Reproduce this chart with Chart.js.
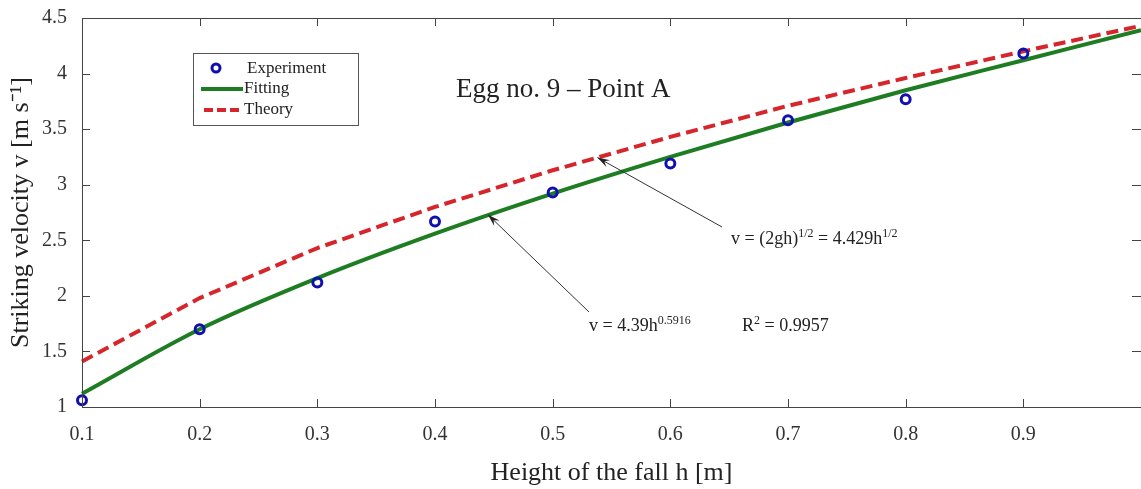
<!DOCTYPE html>
<html>
<head>
<meta charset="utf-8">
<script src="https://cdn.jsdelivr.net/npm/chart.js@4.4.1/dist/chart.umd.min.js"></script>
<style>
  html, body { margin: 0; padding: 0; background: #fff; overflow: hidden; }
  #wrap { width: 1141px; height: 489px; position: relative; }
  canvas { display: block; }
</style>
</head>
<body>
<div id="wrap"><canvas id="egg"></canvas></div>
<script>
// heights of the fall [m]
const heights = [0.1, 0.2, 0.3, 0.4, 0.5, 0.6, 0.7, 0.8, 0.9];
const experiment = [1.06, 1.70, 2.12, 2.67, 2.93, 3.19, 3.58, 3.77, 4.18];

// curves
const curveHeights = [0.1, 0.2, 0.3, 0.4, 0.5, 0.6, 0.7, 0.8, 0.9, 1.0];
const fitting = [1.12, 1.70, 2.16, 2.56, 2.92, 3.25, 3.56, 3.85, 4.12, 4.39];
const theory = [1.41, 1.98, 2.43, 2.80, 3.13, 3.43, 3.71, 3.96, 4.20, 4.43];

const xTickLabels = ['0.1', '0.2', '0.3', '0.4', '0.5', '0.6', '0.7', '0.8', '0.9'];
const yTickLabels = ['1', '1.5', '2', '2.5', '3', '3.5', '4', '4.5'];

const serif = '"Liberation Serif", "Times New Roman", serif';
const blue = '#1010b0';
const green = '#1e7d22';
const red = '#d6262b';

function toPoints(xs, ys) {
    return xs.map((x, i) => ({ x: x, y: ys[i] }));
}

// draw text with superscripts, parts = [[text, isSup], ...]
function drawRich(ctx, x, y, parts, size) {
    ctx.textAlign = 'left';
    ctx.textBaseline = 'alphabetic';
    parts.forEach(p => {
        const sup = p[1];
        ctx.font = (sup ? Math.round(size * 0.68) : size) + 'px ' + serif;
        ctx.fillText(p[0], x, sup ? y - size * 0.4 : y);
        x += ctx.measureText(p[0]).width;
    });
}

function arrow(ctx, x1, y1, x2, y2) {
    ctx.strokeStyle = '#333';
    ctx.fillStyle = '#222';
    ctx.lineWidth = 1;
    ctx.beginPath();
    ctx.moveTo(x1, y1);
    ctx.lineTo(x2, y2);
    ctx.stroke();
    const a = Math.atan2(y2 - y1, x2 - x1);
    const len = 13, w = 0.3;
    ctx.beginPath();
    ctx.moveTo(x2, y2);
    ctx.lineTo(x2 - len * Math.cos(a - w), y2 - len * Math.sin(a - w));
    ctx.lineTo(x2 - len * 0.6 * Math.cos(a), y2 - len * 0.6 * Math.sin(a));
    ctx.lineTo(x2 - len * Math.cos(a + w), y2 - len * Math.sin(a + w));
    ctx.closePath();
    ctx.fill();
}

const framePlugin = {
    id: 'frame',
    afterDraw(chart) {
        const ctx = chart.ctx;
        const a = chart.chartArea;
        const xs = chart.scales.x, ys = chart.scales.y;
        ctx.save();
        // frame
        ctx.strokeStyle = '#444';
        ctx.lineWidth = 1;
        ctx.strokeRect(a.left + 0.5, a.top + 0.5, a.right - a.left, a.bottom - a.top);
        // inward ticks on all sides
        ctx.beginPath();
        xs.ticks.forEach(t => {
            const px = Math.round(xs.getPixelForValue(t.value)) + 0.5;
            ctx.moveTo(px, a.bottom); ctx.lineTo(px, a.bottom - 8);
            ctx.moveTo(px, a.top); ctx.lineTo(px, a.top + 8);
        });
        ys.ticks.forEach(t => {
            const py = Math.round(ys.getPixelForValue(t.value)) + 0.5;
            ctx.moveTo(a.left, py); ctx.lineTo(a.left + 8, py);
            ctx.moveTo(a.right, py); ctx.lineTo(a.right - 9, py);
        });
        ctx.stroke();

        // title inside plot
        ctx.fillStyle = '#222';
        ctx.font = '27px ' + serif;
        ctx.textAlign = 'left';
        ctx.textBaseline = 'alphabetic';
        ctx.fillText('Egg no. 9 \u2013 Point A', 456, 97);

        // legend box
        ctx.strokeStyle = '#555';
        ctx.strokeRect(193.5, 53.5, 165, 72);
        ctx.font = '17px ' + serif;
        ctx.textBaseline = 'middle';
        ctx.fillText('Experiment', 247, 69);
        ctx.fillText('Fitting', 244, 89);
        ctx.fillText('Theory', 244, 110);
        ctx.strokeStyle = blue;
        ctx.lineWidth = 3;
        ctx.beginPath();
        ctx.arc(216, 68, 4, 0, Math.PI * 2);
        ctx.stroke();
        ctx.strokeStyle = green;
        ctx.lineWidth = 4;
        ctx.beginPath();
        ctx.moveTo(201, 89); ctx.lineTo(243, 89);
        ctx.stroke();
        ctx.strokeStyle = red;
        ctx.setLineDash([9, 4]);
        ctx.beginPath();
        ctx.moveTo(204, 110); ctx.lineTo(243, 110);
        ctx.stroke();
        ctx.setLineDash([]);

        // arrows to the curves
        arrow(ctx, 722, 227, xs.getPixelForValue(0.538), ys.getPixelForValue(3.245));
        arrow(ctx, 589, 312, xs.getPixelForValue(0.445), ys.getPixelForValue(2.73));

        // formulas
        ctx.fillStyle = '#222';
        drawRich(ctx, 731, 244, [['v = (2gh)', false], ['1/2', true], [' = 4.429h', false], ['1/2', true]], 18);
        drawRich(ctx, 589, 331, [['v = 4.39h', false], ['0.5916', true]], 18);
        drawRich(ctx, 742, 331, [['R', false], ['2', true], [' = 0.9957', false]], 18);
        ctx.restore();
    }
};

const ctx = document.getElementById('egg').getContext('2d');
new Chart(ctx, {
    type: 'scatter',
    data: {
        datasets: [
            {
                label: 'Theory',
                type: 'line',
                data: toPoints(curveHeights, theory),
                borderColor: red,
                borderWidth: 4,
                borderDash: [12, 6],
                pointRadius: 0,
                tension: 0,
                fill: false,
                order: 3
            },
            {
                label: 'Fitting',
                type: 'line',
                data: toPoints(curveHeights, fitting),
                borderColor: green,
                borderWidth: 4,
                pointRadius: 0,
                cubicInterpolationMode: 'monotone',
                fill: false,
                order: 2
            },
            {
                label: 'Experiment',
                data: toPoints(heights, experiment),
                pointStyle: 'circle',
                pointRadius: 4.5,
                borderColor: blue,
                backgroundColor: 'rgba(255,255,255,0)',
                pointBorderWidth: 3,
                order: 1
            }
        ]
    },
    options: {
        responsive: true,
        maintainAspectRatio: false,
        animation: false,
        clip: false,
        layout: { autoPadding: false, padding: { top: 18, right: 0, bottom: 0, left: 0 } },
        plugins: {
            legend: { display: false },
            tooltip: { enabled: false }
        },
        scales: {
            x: {
                type: 'linear',
                min: 0.1,
                max: 1.0,
                afterFit: s => { s.height = 82; s.paddingLeft = 0; s.paddingRight = 0; },
                afterBuildTicks: s => {
                    s.ticks = curveHeights.map(v => ({ value: v }));
                },
                grid: { display: false },
                border: { display: false },
                ticks: {
                    padding: 8,
                    color: '#333',
                    font: { family: serif, size: 20 },
                    maxRotation: 0,
                    callback: (v, i) => xTickLabels[i] || ''
                },
                title: {
                    display: true,
                    text: 'Height of the fall h [m]',
                    color: '#222',
                    font: { family: serif, size: 26 },
                    padding: { top: 7, bottom: 0 }
                }
            },
            y: {
                type: 'linear',
                min: 1,
                max: 4.5,
                afterFit: s => { s.width = 82; s.paddingTop = 0; s.paddingBottom = 0; },
                afterBuildTicks: s => {
                    s.ticks = yTickLabels.map(v => ({ value: parseFloat(v) }));
                },
                grid: { display: false },
                border: { display: false },
                ticks: {
                    padding: 7,
                    color: '#333',
                    font: { family: serif, size: 20 },
                    callback: (v, i) => yTickLabels[i]
                },
                title: {
                    display: true,
                    text: 'Striking velocity v [m s\u207B\u00B9]',
                    color: '#222',
                    font: { family: serif, size: 26 },
                    padding: { top: 6, bottom: 0 }
                }
            }
        }
    },
    plugins: [framePlugin]
});
</script>
</body>
</html>
